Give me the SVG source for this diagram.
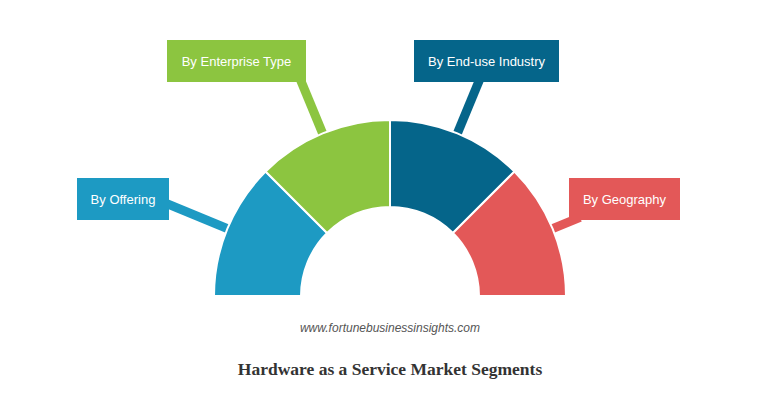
<svg xmlns="http://www.w3.org/2000/svg" width="780" height="398" viewBox="0 0 780 398">
<style>
.seg{stroke:#ffffff;stroke-width:2;stroke-linejoin:miter}
.lead{stroke-width:9;fill:none;stroke-linecap:butt}
.lbl{font-family:"Liberation Sans",Arial,sans-serif;font-size:13px;fill:#ffffff;text-anchor:middle}
.c1{fill:#1d9ac3}.s1{stroke:#1d9ac3}
.c2{fill:#8cc540}.s2{stroke:#8cc540}
.c3{fill:#05658a}.s3{stroke:#05658a}
.c4{fill:#e35858}.s4{stroke:#e35858}
</style>
<rect width="780" height="398" fill="#ffffff"/>
<g id="connectors">
<line class="lead s1" x1="232.9" y1="230.9" x2="165" y2="202.8"/>
<line class="lead s2" x1="324.94" y1="138.94" x2="298.5" y2="75"/>
<line class="lead s3" x1="455.06" y1="138.94" x2="481.5" y2="75"/>
<line class="lead s4" x1="547.1" y1="230.9" x2="580" y2="217.3"/>
</g>
<g id="by-offering">
<path class="seg c1" d="M214,296 A176,176 0 0 1 265.55,171.55 L327.07,233.07 A89,89 0 0 0 301,296 Z"/>
<rect class="c1" x="77" y="178" width="92" height="42"/>
<text class="lbl" x="123" y="203.5">By Offering</text>
</g>
<g id="by-enterprise-type">
<path class="seg c2" d="M265.55,171.55 A176,176 0 0 1 390,120 L390,207 A89,89 0 0 0 327.07,233.07 Z"/>
<rect class="c2" x="167" y="40" width="139" height="42"/>
<text class="lbl" x="236.5" y="65.5">By Enterprise Type</text>
</g>
<g id="by-end-use-industry">
<path class="seg c3" d="M390,120 A176,176 0 0 1 514.45,171.55 L452.93,233.07 A89,89 0 0 0 390,207 Z"/>
<rect class="c3" x="414" y="40" width="145" height="42"/>
<text class="lbl" x="486.5" y="65.5">By End-use Industry</text>
</g>
<g id="by-geography">
<path class="seg c4" d="M514.45,171.55 A176,176 0 0 1 566,296 L479,296 A89,89 0 0 0 452.93,233.07 Z"/>
<rect class="c4" x="569" y="178" width="111" height="42"/>
<text class="lbl" x="624.5" y="203.5">By Geography</text>
</g>
<text x="390" y="332" font-family="Liberation Sans,Arial,sans-serif" font-size="12" font-style="italic" fill="#555555" text-anchor="middle">www.fortunebusinessinsights.com</text>
<text x="390" y="375" font-family="Liberation Serif,Times New Roman,serif" font-size="17.5" font-weight="bold" fill="#333333" text-anchor="middle">Hardware as a Service Market Segments</text>
</svg>
